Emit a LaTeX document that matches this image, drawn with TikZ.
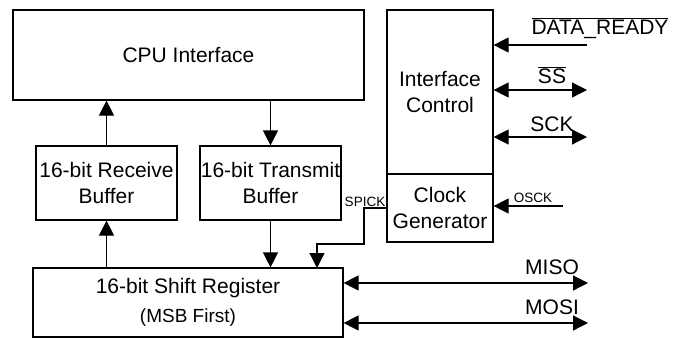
\documentclass[tikz,border=0pt]{standalone}
\usepackage{fontspec}
\setmainfont{Liberation Sans}
\usetikzlibrary{arrows.meta}
\begin{document}
\begin{tikzpicture}[x=1pt,y=-1pt,
  blk/.style={draw,line width=1.2pt,inner sep=0pt,align=center,font=\fontsize{21}{26}\selectfont},
  lbl/.style={inner sep=0pt,anchor=base,font=\fontsize{21}{24}\selectfont},
  sml/.style={inner sep=0pt,anchor=base,font=\fontsize{13.5}{15}\selectfont},
  wire/.style={line width=1.2pt,-{Triangle[length=15pt,width=15pt]}},
  bwire/.style={line width=1.2pt,{Triangle[length=15pt,width=15pt]}-{Triangle[length=15pt,width=15pt]}}]
\useasboundingbox (0,0) rectangle (675,338);
\node[blk,minimum width=351pt,minimum height=90pt] (cpu) at (188.5,55) {CPU Interface};
\node[blk,minimum width=141pt,minimum height=74pt] (rx) at (106.5,183) {16-bit Receive\\Buffer};
\node[blk,minimum width=141pt,minimum height=74pt] (tx) at (270.5,183) {16-bit Transmit\\Buffer};
\node[blk,minimum width=310pt,minimum height=69pt] (sr) at (188,302.5) {16-bit Shift Register\\[3pt]{\fontsize{19}{22}\selectfont (MSB First)}};
\node[blk,minimum width=106pt,minimum height=164pt] (ic) at (440,92) {Interface\\Control};
\node[blk,minimum width=106pt,minimum height=68pt] (cg) at (440,208) {Clock\\Generator};

\draw[wire] (rx.north) -- (rx.north |- cpu.south);
\draw[wire] (tx.north |- cpu.south) -- (tx.north);
\draw[wire] (sr.north -| rx.south) -- (rx.south);
\draw[wire] (tx.south) -- (tx.south |- sr.north);

\coordinate (bend) at (364,244);
\coordinate (spin) at (317,268);
\draw[wire] (cg.west) -| (bend) -| (spin);
\node[sml] (spick) at (365,206) {SPICK};

\coordinate (dr) at (587,45);
\draw[wire] (dr) -- (dr -| ic.east);
\node[lbl] (drl) at (600,34) {$\overline{\mbox{DATA\_READY}}$};

\coordinate (ss) at (587,90);
\draw[bwire] (ss -| ic.east) -- (ss);
\node[lbl] (ssl) at (552,83) {$\overline{\mbox{SS}}$};

\coordinate (sck) at (587,137);
\draw[bwire] (sck -| ic.east) -- (sck);
\node[lbl] (sckl) at (552,131) {SCK};

\coordinate (osck) at (563,206);
\draw[wire] (osck) -- (osck -| cg.east);
\node[sml] (osckl) at (533,202) {OSCK};

\coordinate (miso) at (588,283);
\draw[bwire] (miso -| sr.east) -- (miso);
\node[lbl] (misol) at (552,274) {MISO};

\coordinate (mosi) at (588,323);
\draw[bwire] (mosi -| sr.east) -- (mosi);
\node[lbl] (mosil) at (552,314) {MOSI};
\end{tikzpicture}
\end{document}
